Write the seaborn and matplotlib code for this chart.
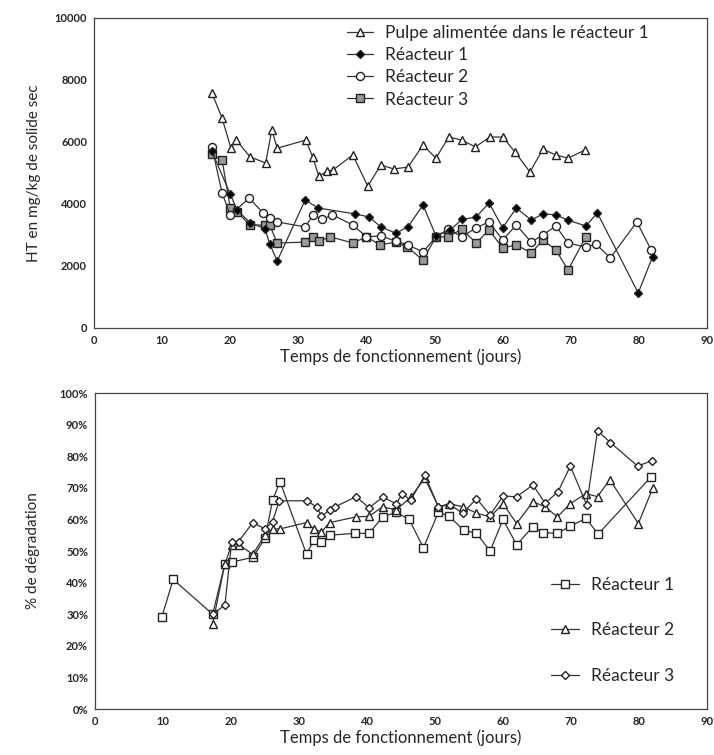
import numpy as np
import pandas as pd
import matplotlib
matplotlib.use('Agg')
import matplotlib.pyplot as plt
from matplotlib.ticker import MultipleLocator, PercentFormatter
from matplotlib.lines import Line2D
import seaborn as sns

sns.set_theme(style='white')
plt.rcParams['font.family'] = ['Lato', 'DejaVu Sans']

# --- donnees graphe du haut (HT en mg/kg de solide sec) ---
pulpe_x = [17.3, 18.8, 20.1, 20.9, 22.9, 25.2, 26.1, 26.9, 31.1, 32.1, 33.0, 34.2, 35.1, 38.0, 40.2,
           42.1, 44.0, 46.1, 48.3, 50.2, 52.1, 54.0, 56.0, 58.1, 60.0, 61.8, 64.0, 65.9, 67.8, 69.6, 72.1]
pulpe_y = [7580, 6770, 5800, 6060, 5520, 5320, 6390, 5800, 6060, 5520, 4900, 5050, 5100, 5580, 4570,
           5260, 5130, 5190, 5900, 5480, 6160, 6060, 5840, 6160, 6160, 5680, 5030, 5770, 5580, 5480, 5740]

r1_x = [17.3, 20.0, 21.0, 22.9, 25.1, 25.8, 26.9, 31.0, 32.9, 38.3, 40.4, 42.1, 44.3, 46.1, 48.3, 50.2,
        52.3, 54.0, 56.1, 58.0, 60.0, 62.0, 64.2, 65.9, 67.8, 69.6, 72.2, 73.9, 79.9, 82.0]
r1_y = [5700, 4320, 3800, 3400, 3200, 2710, 2160, 4130, 3870, 3680, 3580, 3260, 3060, 3260, 3970, 2970,
        3160, 3500, 3580, 4030, 3230, 3870, 3480, 3680, 3650, 3480, 3290, 3710, 1130, 2290]

r2_x = [17.3, 18.8, 20.0, 22.8, 24.8, 25.8, 26.9, 31.0, 32.2, 33.5, 35.0, 38.0, 40.0, 42.1, 44.3, 46.1,
        48.3, 50.2, 52.0, 54.0, 56.1, 58.0, 60.0, 62.0, 64.2, 65.9, 67.8, 69.6, 72.2, 73.7, 75.8, 79.7, 81.8]
r2_y = [5850, 4350, 3650, 4190, 3710, 3550, 3420, 3260, 3650, 3500, 3650, 3320, 2940, 2970, 2800, 2680,
        2450, 2940, 3190, 2940, 3230, 3420, 2840, 3320, 2770, 3000, 3290, 2740, 2610, 2710, 2260, 3420, 2520]

r3_x = [17.3, 18.8, 20.0, 21.0, 22.9, 25.1, 25.8, 26.9, 31.0, 32.2, 33.0, 34.7, 38.0, 40.0, 42.0, 44.3,
        46.0, 48.3, 50.2, 52.0, 54.0, 56.1, 58.0, 60.0, 62.0, 64.2, 65.9, 67.8, 69.6, 72.2]
r3_y = [5600, 5420, 3870, 3740, 3320, 3320, 3320, 2740, 2770, 2940, 2800, 2940, 2740, 2940, 2680, 2770,
        2610, 2190, 2940, 2940, 3190, 2740, 3160, 2580, 2680, 2420, 2840, 2520, 1870, 2940]

# --- donnees graphe du bas (% de degradation) ---
d1_x = [9.8, 11.5, 17.3, 19.1, 20.1, 23.2, 25.0, 26.1, 27.2, 31.1, 32.2, 33.3, 34.5, 38.2, 40.3, 42.3,
        44.3, 46.2, 48.3, 50.5, 52.1, 54.2, 56.1, 58.1, 60.0, 62.0, 64.4, 65.9, 68.0, 69.9, 72.2, 74.0, 81.7]
d1_y = [29, 41, 30, 46, 46.5, 48, 54, 66, 72, 49, 53.5, 53, 55, 55.6, 55.6, 60.8,
        62.3, 60, 51, 62.3, 61, 56.6, 55.6, 50, 60, 52, 57.7, 55.8, 55.6, 57.9, 60.3, 55.4, 73.3]

d2_x = [17.3, 19.1, 20.1, 21.1, 23.2, 25.0, 26.1, 27.2, 31.1, 32.2, 33.3, 34.5, 38.4, 40.3, 42.3, 44.3,
        46.4, 48.5, 50.5, 52.1, 54.1, 56.1, 58.1, 60.0, 62.0, 64.4, 66.2, 68.0, 69.9, 72.2, 73.9, 75.7, 79.9, 82.0]
d2_y = [27, 46, 52, 52, 49, 55, 57, 57, 59, 57, 56, 59, 60.8, 61, 64, 63,
        67, 73, 64, 65, 64, 62, 60.8, 65, 58.7, 65.6, 64, 60.8, 65, 68.2, 67.2, 72.6, 58.7, 69.8]

d3_x = [17.3, 19.1, 20.1, 21.1, 23.2, 25.0, 26.1, 27.1, 31.1, 32.6, 33.3, 34.5, 35.3, 38.4, 40.3, 42.3,
        44.3, 45.2, 46.4, 48.5, 50.5, 52.2, 54.1, 56.1, 58.1, 60.0, 62.0, 64.4, 66.2, 68.1, 69.9, 72.3,
        73.9, 75.8, 79.8, 81.9]
d3_y = [30, 32.9, 53, 53, 59, 57, 59.3, 65.9, 65.9, 64, 61, 63, 64, 67.2, 63.7, 67,
        65, 68.2, 66, 74, 64, 64.6, 62, 66.6, 61.4, 67.4, 67.2, 70.9, 65.1, 68.8, 76.9, 64.6,
        88.1, 84.3, 76.9, 78.6]

fig = plt.figure(figsize=(7.14, 7.55), dpi=100)
ax1 = fig.add_axes([0.1317, 0.5656, 0.8585, 0.4106])
ax2 = fig.add_axes([0.1331, 0.0609, 0.8571, 0.4185])

lw = 0.9
ec = '#222222'

def trace(ax, x, y, marker, face, size, label):
    df = pd.DataFrame({'x': x, 'y': y})
    sns.lineplot(data=df, x='x', y='y', ax=ax, sort=False, color='#333333', linewidth=lw,
                 marker=marker, markersize=size, markerfacecolor=face, markeredgecolor=ec,
                 markeredgewidth=1.0, label=label, legend=False)

# graphe du haut
trace(ax1, pulpe_x, pulpe_y, '^', 'white', 5.8, 'Pulpe alimentée dans le réacteur 1')
trace(ax1, r3_x, r3_y, 's', '#9a9a9a', 5.5, 'Réacteur 3')
trace(ax1, r2_x, r2_y, 'o', 'white', 5.8, 'Réacteur 2')
trace(ax1, r1_x, r1_y, 'D', 'black', 4.5, 'Réacteur 1')

ax1.set_xlim(0, 90)
ax1.set_ylim(0, 10000)
ax1.xaxis.set_major_locator(MultipleLocator(10))
ax1.xaxis.set_minor_locator(MultipleLocator(2))
ax1.yaxis.set_major_locator(MultipleLocator(2000))
ax1.yaxis.set_minor_locator(MultipleLocator(500))
ax1.set_xlabel('Temps de fonctionnement (jours)', fontsize=12, labelpad=2)
ax1.set_ylabel('HT en mg/kg de solide sec', fontsize=11, labelpad=10)

h_top = [
    Line2D([], [], color='#333333', lw=lw, marker='^', ms=5.8, mfc='white', mec=ec),
    Line2D([], [], color='#333333', lw=lw, marker='D', ms=4.5, mfc='black', mec=ec),
    Line2D([], [], color='#333333', lw=lw, marker='o', ms=5.8, mfc='white', mec=ec),
    Line2D([], [], color='#333333', lw=lw, marker='s', ms=5.5, mfc='#9a9a9a', mec=ec),
]
l_top = ['Pulpe alimentée dans le réacteur 1', 'Réacteur 1', 'Réacteur 2', 'Réacteur 3']
ax1.legend(h_top, l_top, loc='upper left', bbox_to_anchor=(0.395, 1.01), frameon=False,
           fontsize=12.5, handlelength=1.5, handletextpad=0.7, labelspacing=0.35,
           borderaxespad=0.2)

# graphe du bas
trace(ax2, d1_x, d1_y, 's', 'white', 6, 'Réacteur 1')
trace(ax2, d2_x, d2_y, '^', 'white', 5.8, 'Réacteur 2')
trace(ax2, d3_x, d3_y, 'D', 'white', 4.5, 'Réacteur 3')

ax2.set_xlim(0, 90)
ax2.set_ylim(0, 100)
ax2.xaxis.set_major_locator(MultipleLocator(10))
ax2.xaxis.set_minor_locator(MultipleLocator(2))
ax2.yaxis.set_major_locator(MultipleLocator(10))
ax2.yaxis.set_minor_locator(MultipleLocator(2))
ax2.yaxis.set_major_formatter(PercentFormatter(decimals=0))
ax2.set_xlabel('Temps de fonctionnement (jours)', fontsize=12, labelpad=2)
ax2.set_ylabel('% de dégradation', fontsize=11, labelpad=14)

h_bot = [
    Line2D([], [], color='#333333', lw=lw, marker='s', ms=6, mfc='white', mec=ec),
    Line2D([], [], color='#333333', lw=lw, marker='^', ms=5.8, mfc='white', mec=ec),
    Line2D([], [], color='#333333', lw=lw, marker='D', ms=4.5, mfc='white', mec=ec),
]
ax2.legend(h_bot, ['Réacteur 1', 'Réacteur 2', 'Réacteur 3'], loc='lower left',
           bbox_to_anchor=(0.72, 0.03), frameon=False, fontsize=12.5, handlelength=1.6,
           handletextpad=0.7, labelspacing=1.7)

for ax in (ax1, ax2):
    for s in ax.spines.values():
        s.set_color('#444444')
        s.set_linewidth(0.9)
    ax.tick_params(axis='both', which='major', labelsize=8, length=3, direction='out',
                   color='#444444', pad=2)
    ax.tick_params(axis='both', which='minor', length=1.5, direction='out', color='#444444')
    for t in ax.get_xticklabels() + ax.get_yticklabels():
        t.set_fontweight('bold')
    ax.grid(False)

fig.savefig('out.png', dpi=100)
